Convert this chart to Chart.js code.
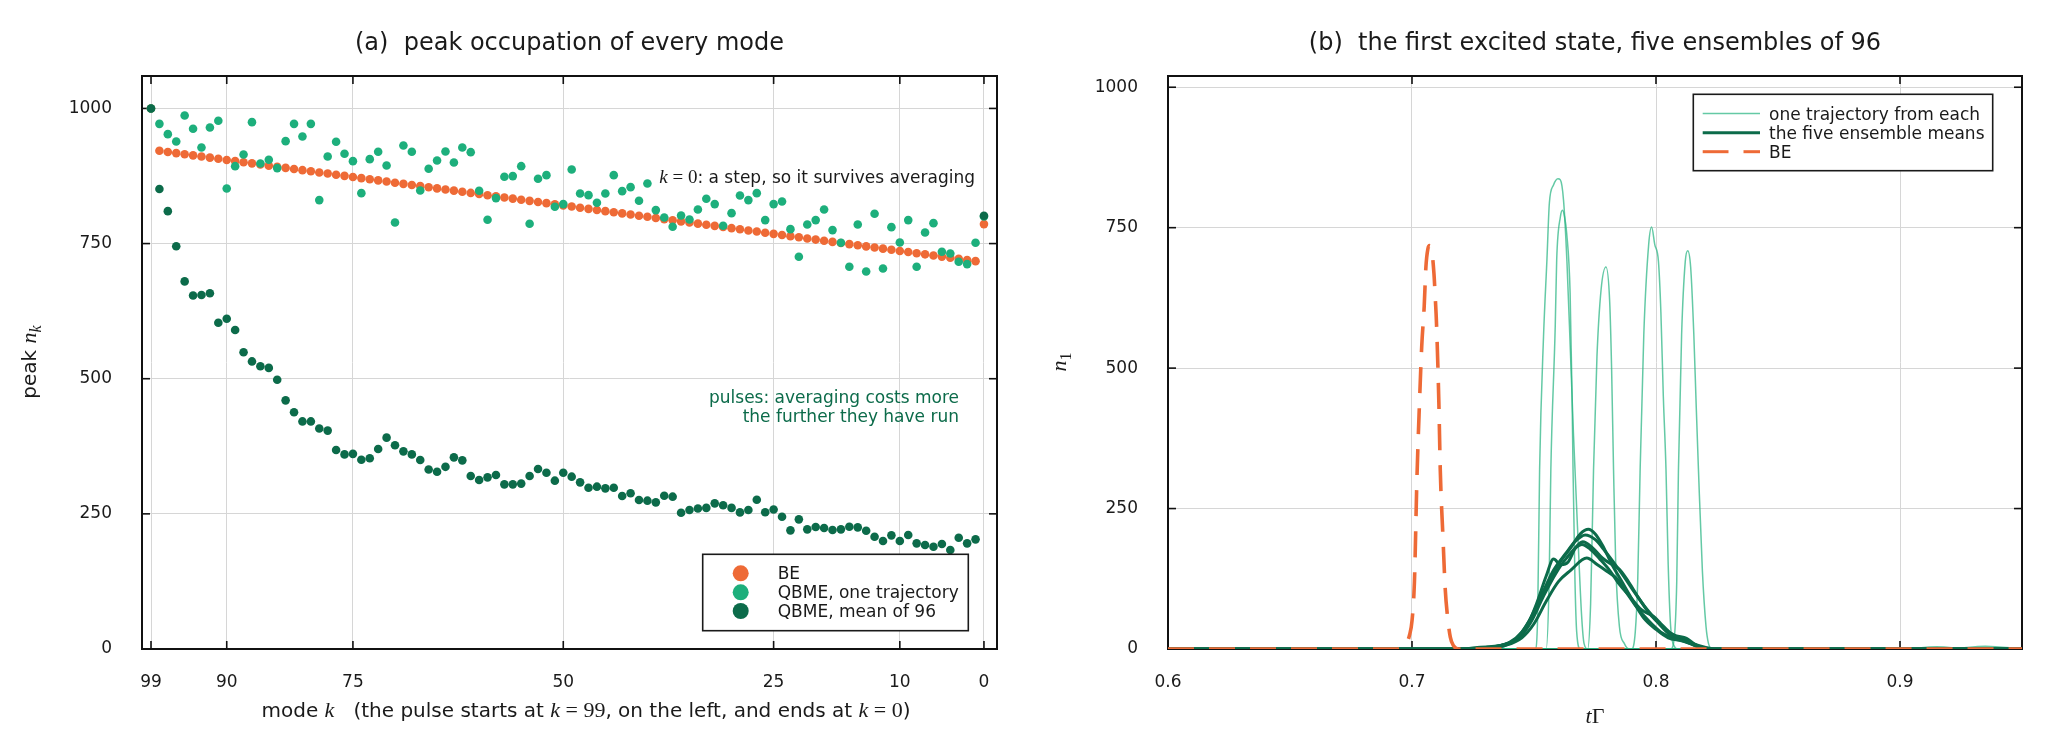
<!DOCTYPE html>
<html><head><meta charset="utf-8">
<script src="https://cdn.jsdelivr.net/npm/chart.js@4.4.1/dist/chart.umd.min.js"></script>
<style>
html,body{margin:0;padding:0;background:#fff;}
#wrap{position:relative;width:2048px;height:740px;background:#fff;}
.pane{position:absolute;top:0;width:1024px;height:740px;}
</style></head><body>
<div id="wrap">
<div class="pane" style="left:0"><canvas id="ca"></canvas></div>
<div class="pane" style="left:1024px"><canvas id="cb"></canvas></div>
</div>
<script>
// ---------- panel (a) data ----------
const modeK = [99,98,97,96,95,94,93,92,91,90,89,88,87,86,85,84,83,82,81,80,79,78,77,76,75,74,73,72,71,70,69,68,67,66,65,64,63,62,61,60,59,58,57,56,55,54,53,52,51,50,49,48,47,46,45,44,43,42,41,40,39,38,37,36,35,34,33,32,31,30,29,28,27,26,25,24,23,22,21,20,19,18,17,16,15,14,13,12,11,10,9,8,7,6,5,4,3,2,1,0];
const beVals = [1000,921.6,919.5,917.4,915.3,913.2,911.1,909.0,906.8,904.7,902.6,900.5,898.4,896.3,894.2,892.1,890.0,887.9,885.8,883.7,881.6,879.5,877.4,875.3,873.2,871.1,869.0,866.9,864.8,862.6,860.5,858.4,856.3,854.2,852.1,850.0,847.9,845.8,843.7,841.6,839.5,837.4,835.3,833.2,831.1,829.0,826.9,824.8,822.7,820.6,818.5,816.4,814.2,812.1,810.0,807.9,805.8,803.7,801.6,799.5,797.4,795.3,793.2,791.1,789.0,786.9,784.8,782.7,780.6,778.5,776.4,774.3,772.2,770.1,768.0,765.9,763.7,761.6,759.5,757.4,755.3,753.2,751.1,749.0,746.9,744.8,742.7,740.6,738.5,736.4,734.3,732.2,730.1,728.0,725.9,723.8,721.7,719.6,717.5,786];
const oneTrajVals = [1000,971.5,952.4,938.9,987,962.3,927.8,964.8,977.1,851.9,893.2,914.8,974.6,898.2,905,889.6,939.5,971.5,948.1,971.5,830.4,911.1,938.3,916.1,902.5,843.3,906.2,919.8,894.5,789.1,931.5,919.8,848.2,888.3,903.7,920.4,900,927.8,919.1,847.6,794,834.1,873.5,874.8,893.2,786.6,869.8,876.6,818,823,887.1,842.7,839.6,825.4,842.7,876.6,847,854.4,829.1,861.2,811.9,798.3,781,802,794.6,813.1,832.8,823,782.9,806.3,839,830.4,843.3,793.4,823,827.9,776.7,725.6,785.4,793.4,813.1,774.9,751.5,707.1,785.4,698.4,805.1,704,780.4,752.1,793.4,707.1,770.6,787.8,734.8,731.7,716.3,712,751.5,800];
const meanVals = [1000,851,810,745,680,654,655,658,603.6,611,590,549,532,523,520,498,460,438,421,421,408,404,368,360,361,350,353,370,391,377,365.6,360,349.6,332,328,337,354.5,349,320,312.6,317.5,322,304.6,304.6,306,320,333,326,311.4,326,318.8,308.3,298.4,300.3,297.2,298.4,283,288,275.6,274.4,271.3,283.6,281.8,252,257,260,261,269.4,266,261,252.7,257,276,253,258,244.7,219.5,239.8,221.3,225.6,223.8,220.1,221.3,226.2,225,218.8,207.7,199.7,210.2,199.7,210.8,195.4,192.3,189.2,194.2,183.1,205.9,195.4,202.8,801.4];
const xTicksA = [99,90,75,50,25,10,0];
const yTicksA = [0,250,500,750,1000];
const legendA = ['BE','QBME, one trajectory','QBME, mean of 96'];

// ---------- panel (b) data ----------
const be_t = [0.600,0.690,0.695,0.697,0.699,0.700,0.701,0.702,0.703,0.704,0.705,0.7057,0.7065,0.7072,0.708,0.709,0.7096,0.710,0.711,0.7116,0.7127,0.7136,0.7145,0.7157,0.717,0.719,0.950];
const be_n = [0,0,0,5,25,50,120,300,430,540,610,680,712,718,712,668,620,584,440,317,198,108,60,21,6,0,0];

const tr1_t = [0.600,0.7505,0.7515,0.7523,0.7539,0.7553,0.7563,0.758,0.7598,0.7608,0.7621,0.7635,0.765,0.7662,0.768,0.7695,0.7705,0.772,0.950];
const tr1_n = [0,0,60,320,556,693,794,826,837,835,799,690,520,380,200,60,10,0,0];
const tr2_t = [0.600,0.755,0.7562,0.7569,0.7587,0.7593,0.7608,0.7617,0.7625,0.7634,0.7648,0.7656,0.766,0.7668,0.7675,0.769,0.950];
const tr2_n = [0,0,120,319,574,693,769,781,770,740,634,450,319,120,30,0,0];
const tr3_t = [0.600,0.772,0.7732,0.7744,0.7758,0.7775,0.7795,0.781,0.7818,0.7826,0.7835,0.785,0.787,0.789,0.950];
const tr3_n = [0,0,80,319,520,640,680,620,500,319,150,40,10,0,0];
const tr4_t = [0.600,0.790,0.7915,0.7925,0.7935,0.795,0.797,0.7982,0.7995,0.801,0.802,0.803,0.8041,0.805,0.806,0.8075,0.809,0.900,0.915,0.930,0.950];
const tr4_n = [0,0,30,120,319,560,720,751,720,690,600,450,319,150,40,5,0,0,4,0,0];
const tr5_t = [0.600,0.806,0.8075,0.8085,0.8092,0.8105,0.812,0.813,0.8142,0.8155,0.8165,0.8174,0.819,0.8205,0.8215,0.823,0.920,0.935,0.950];
const tr5_n = [0,0,20,120,319,560,690,709,680,560,430,319,140,40,10,0,0,5,0];

const m1_t = [0.600,0.720,0.728,0.735,0.740,0.745,0.750,0.755,0.760,0.765,0.769,0.7723,0.775,0.778,0.782,0.786,0.790,0.795,0.800,0.805,0.810,0.813,0.818,0.822,0.950];
const m1_n = [0,0,3,5,12,30,65,110,150,180,205,213,205,185,150,120,90,55,35,20,15,12,4,0,0];
const m2_t = [0.600,0.725,0.732,0.738,0.743,0.748,0.753,0.758,0.763,0.767,0.771,0.775,0.779,0.783,0.787,0.791,0.796,0.800,0.804,0.808,0.8125,0.816,0.820,0.823,0.950];
const m2_n = [0,0,4,8,20,50,95,140,170,192,203,195,175,152,128,102,72,52,34,24,19,8,2,0,0];
const m3_t = [0.600,0.728,0.735,0.742,0.747,0.751,0.755,0.758,0.761,0.764,0.767,0.770,0.774,0.778,0.782,0.785,0.789,0.793,0.797,0.801,0.805,0.810,0.815,0.820,0.950];
const m3_n = [0,0,5,15,40,80,130,160,150,155,180,191,180,162,150,142,118,90,65,46,28,16,8,0,0];
const m4_t = [0.600,0.730,0.737,0.744,0.749,0.754,0.759,0.763,0.7696,0.773,0.777,0.781,0.785,0.789,0.794,0.799,0.802,0.806,0.810,0.814,0.819,0.822,0.950];
const m4_n = [0,0,5,20,50,95,135,160,186,178,160,140,115,95,70,58,45,28,18,10,2,0,0];
const m5_t = [0.600,0.730,0.738,0.745,0.750,0.755,0.760,0.765,0.7716,0.776,0.780,0.784,0.788,0.792,0.797,0.802,0.806,0.810,0.815,0.820,0.824,0.950];
const m5_n = [0,0,6,20,45,85,120,140,162,150,138,125,100,75,50,30,22,20,10,3,0,0];

const xTicksB = [0.6,0.7,0.8,0.9];
const yTicksB = [0,250,500,750,1000];
const legendB = ['one trajectory from each','the five ensemble means','BE'];

// ---------- styling ----------
const C_BE = '#EE6A36', C_ONE = '#1DAF7C', C_MEAN = '#0C6B4A', C_TRL = 'rgba(40,180,130,0.72)';
const SANS = '"DejaVu Sans", sans-serif';
const SERIF = '"Liberation Serif", "DejaVu Serif", serif';
const F = (s) => s + 'px ' + SANS;
const FI = (s) => 'italic ' + s + 'px ' + SERIF;
const FR = (s) => s + 'px ' + SERIF;

function rich(ctx, segs, x, y, align, color) {
  let w = 0;
  for (const s of segs) { ctx.font = s[1]; w += ctx.measureText(s[0]).width; }
  let cx = align === 'center' ? x - w / 2 : (align === 'right' ? x - w : x);
  ctx.textAlign = 'left'; ctx.textBaseline = 'alphabetic'; ctx.fillStyle = color || '#1a1a1a';
  for (const s of segs) { ctx.font = s[1]; ctx.fillText(s[0], cx, y + (s[2] || 0)); cx += ctx.measureText(s[0]).width; }
}
function line(ctx, x1, y1, x2, y2) { ctx.beginPath(); ctx.moveTo(x1, y1); ctx.lineTo(x2, y2); ctx.stroke(); }

function frame(chart, xt, yt) {
  const { ctx, chartArea: a } = chart; const x = chart.scales.x, y = chart.scales.y;
  ctx.save(); ctx.strokeStyle = '#111'; ctx.lineWidth = 1.6;
  for (const v of xt) { const p = x.getPixelForValue(v); line(ctx, p, a.bottom, p, a.bottom - 8); line(ctx, p, a.top, p, a.top + 8); }
  for (const v of yt) { const p = y.getPixelForValue(v); line(ctx, a.left, p, a.left + 8, p); line(ctx, a.right, p, a.right - 8, p); }
  ctx.lineWidth = 2; ctx.strokeRect(a.left, a.top, a.right - a.left, a.bottom - a.top);
  ctx.restore();
}

function scaleOpts(min, max, ticks, isX, fixed, pad, extra) {
  return Object.assign({
    type: 'linear', min: min, max: max,
    afterBuildTicks: s => { s.ticks = ticks.map(v => ({ value: v })); },
    afterFit: s => { if (isX) s.height = fixed; else s.width = fixed; },
    grid: { color: '#d6d6d6', lineWidth: 1, drawTicks: false },
    border: { display: false },
    ticks: { font: { family: SANS, size: 17 }, color: '#1a1a1a', padding: pad, autoSkip: false, maxRotation: 0, minRotation: 0,
             callback: v => String(v) }
  }, extra || {});
}

// ---------- chart (a) ----------
const decorA = {
  id: 'decorA',
  beforeDatasetsDraw(chart) { frame(chart, xTicksA, yTicksA); },
  afterDatasetsDraw(chart) {
    const ctx = chart.ctx;
    ctx.save();
    rich(ctx, [['(a)  peak occupation of every mode', F(24)]], 569.5, 49.5, 'center');
    rich(ctx, [['mode ', F(20)], ['k', FI(22)], ['   (the pulse starts at ', F(20)], ['k', FI(22)], [' = 99', FR(22)], [', on the left, and ends at ', F(20)], ['k', FI(22)], [' = 0', FR(22)], [')', F(20)]], 586, 717, 'center');
    ctx.save(); ctx.translate(36, 362); ctx.rotate(-Math.PI / 2);
    rich(ctx, [['peak ', F(20)], ['n', FI(22)], ['k', FI(16), 5]], 0, 0, 'center');
    ctx.restore();
    rich(ctx, [['k', FI(19)], [' = 0', FR(19)], [': a step, so it survives averaging', F(17)]], 975, 183, 'right', '#1a1a1a');
    rich(ctx, [['pulses: averaging costs more', F(17)]], 959, 403, 'right', C_MEAN);
    rich(ctx, [['the further they have run', F(17)]], 959, 422, 'right', C_MEAN);
    // legend
    const L = 702.7, T = 554.3, R = 968.3, B = 630.7;
    ctx.fillStyle = '#fff'; ctx.fillRect(L, T, R - L, B - T);
    ctx.strokeStyle = '#1a1a1a'; ctx.lineWidth = 1.6; ctx.strokeRect(L, T, R - L, B - T);
    const cols = [C_BE, C_ONE, C_MEAN], rows = [573.3, 592.3, 611];
    for (let i = 0; i < 3; i++) {
      ctx.beginPath(); ctx.arc(740.7, rows[i], 8, 0, Math.PI * 2); ctx.fillStyle = cols[i]; ctx.fill();
      rich(ctx, [[legendA[i], F(17)]], 777.7, rows[i] + 6, 'left', '#1a1a1a');
    }
    ctx.restore();
  }
};

const ptsA = (vals) => modeK.map((k, i) => ({ x: k, y: vals[i] }));
new Chart(document.getElementById('ca'), {
  type: 'scatter',
  data: { datasets: [
    { label: legendA[0], data: ptsA(beVals), backgroundColor: C_BE, borderWidth: 0, pointRadius: 4.3, order: 3 },
    { label: legendA[1], data: ptsA(oneTrajVals), backgroundColor: C_ONE, borderWidth: 0, pointRadius: 4.3, order: 2 },
    { label: legendA[2], data: ptsA(meanVals), backgroundColor: C_MEAN, borderWidth: 0, pointRadius: 4.3, order: 1 }
  ] },
  options: {
    responsive: true, maintainAspectRatio: false, animation: false, devicePixelRatio: 1,
    layout: { padding: { left: 0, right: 27, top: 76, bottom: 0 } },
    plugins: { legend: { display: false }, title: { display: false }, tooltip: { enabled: false } },
    scales: {
      x: scaleOpts(-1.55, 100.07, xTicksA, true, 91, 23, { reverse: true }),
      y: scaleOpts(0, 1060, yTicksA, false, 142, 30)
    }
  },
  plugins: [decorA]
});

// ---------- chart (b) ----------
const decorB = {
  id: 'decorB',
  beforeDatasetsDraw(chart) { frame(chart, xTicksB, yTicksB); },
  afterDatasetsDraw(chart) {
    const ctx = chart.ctx;
    ctx.save();
    rich(ctx, [['(b)  the first excited state, five ensembles of 96', F(24)]], 571, 49.5, 'center');
    rich(ctx, [['t', FI(22)], ['\u0393', FR(22)]], 571, 723, 'center');
    ctx.save(); ctx.translate(42, 362); ctx.rotate(-Math.PI / 2);
    rich(ctx, [['n', FI(22)], ['1', FR(16), 5]], 0, 0, 'center');
    ctx.restore();
    const L = 669.3, T = 94.3, R = 968.7, B = 170.7;
    ctx.fillStyle = '#fff'; ctx.fillRect(L, T, R - L, B - T);
    ctx.strokeStyle = '#1a1a1a'; ctx.lineWidth = 1.6; ctx.strokeRect(L, T, R - L, B - T);
    const rows = [113.5, 132.7, 151.7];
    ctx.lineCap = 'butt';
    ctx.strokeStyle = C_TRL; ctx.lineWidth = 1.5; line(ctx, 678.7, rows[0], 736, rows[0]);
    ctx.strokeStyle = C_MEAN; ctx.lineWidth = 3; line(ctx, 678.7, rows[1], 736, rows[1]);
    ctx.strokeStyle = C_BE; ctx.lineWidth = 3; line(ctx, 678.7, rows[2], 704.5, rows[2]); line(ctx, 719.5, rows[2], 736, rows[2]);
    for (let i = 0; i < 3; i++) rich(ctx, [[legendB[i], F(17)]], 745, rows[i] + 6, 'left', '#1a1a1a');
    ctx.restore();
  }
};

const ptsB = (t, n) => t.map((v, i) => ({ x: v, y: n[i] }));
const trajDS = (t, n, lbl) => ({ label: lbl, data: ptsB(t, n), borderColor: C_TRL, borderWidth: 1.5, pointRadius: 0, cubicInterpolationMode: 'monotone', order: 3 });
const meanDS = (t, n, lbl) => ({ label: lbl, data: ptsB(t, n), borderColor: C_MEAN, borderWidth: 3, pointRadius: 0, cubicInterpolationMode: 'monotone', order: 2 });
new Chart(document.getElementById('cb'), {
  type: 'line',
  data: { datasets: [
    trajDS(tr1_t, tr1_n, legendB[0]), trajDS(tr2_t, tr2_n, ''), trajDS(tr3_t, tr3_n, ''), trajDS(tr4_t, tr4_n, ''), trajDS(tr5_t, tr5_n, ''),
    meanDS(m1_t, m1_n, legendB[1]), meanDS(m2_t, m2_n, ''), meanDS(m3_t, m3_n, ''), meanDS(m4_t, m4_n, ''), meanDS(m5_t, m5_n, ''),
    { label: legendB[2], data: ptsB(be_t, be_n), borderColor: C_BE, borderWidth: 3.6, borderDash: [26, 15], pointRadius: 0, cubicInterpolationMode: 'monotone', order: 1 }
  ] },
  options: {
    responsive: true, maintainAspectRatio: false, animation: false, devicePixelRatio: 1,
    layout: { padding: { left: 0, right: 26, top: 76, bottom: 0 } },
    plugins: { legend: { display: false }, title: { display: false }, tooltip: { enabled: false } },
    scales: {
      x: scaleOpts(0.6, 0.95, xTicksB, true, 91, 23),
      y: scaleOpts(0, 1020, yTicksB, false, 144, 30)
    }
  },
  plugins: [decorB]
});
</script>
</body></html>
